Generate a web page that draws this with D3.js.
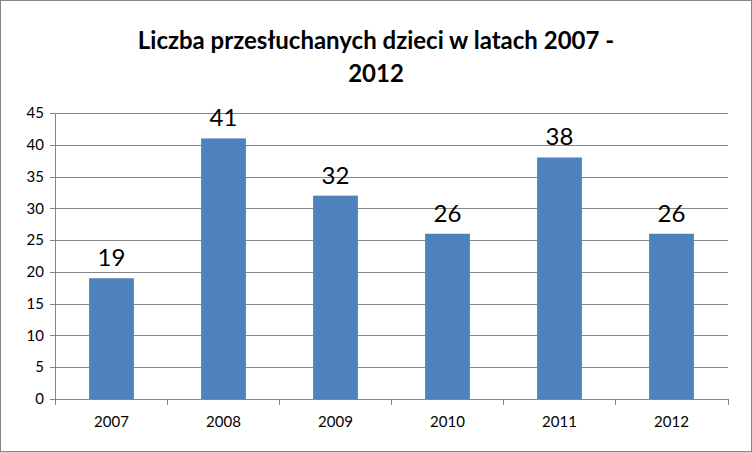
<!DOCTYPE html>
<html><head><meta charset="utf-8">
<script src="https://cdn.jsdelivr.net/npm/d3@7"></script>
<style>body{margin:0;background:#fff}svg{font-family:Lato,"Open Sans",sans-serif}</style>
</head><body>
<svg id="chart" width="752" height="452"></svg>
<script>
const years = ['2007', '2008', '2009', '2010', '2011', '2012'];
const counts = [19, 41, 32, 26, 38, 26];
const yTicks = [0, 5, 10, 15, 20, 25, 30, 35, 40, 45];
const titleLines = ['Liczba przesłuchanych dzieci w latach 2007 -', '2012'];

const svg = d3.select('#chart');
svg.append('rect').attr('x', 0.5).attr('y', 0.5).attr('width', 751).attr('height', 451)
  .attr('fill', '#fff').attr('stroke', '#868686');

const x = d3.scaleBand().domain(years).range([55.5, 727.5]).paddingInner(0.6).paddingOuter(0.3);
const y = d3.scaleLinear().domain([0, 45]).range([399, 113]);

// grid
svg.selectAll('.grid').data(yTicks).enter().append('line')
  .attr('x1', 55).attr('x2', 728)
  .attr('y1', d => Math.round(y(d)) + 0.5).attr('y2', d => Math.round(y(d)) + 0.5)
  .attr('stroke', '#868686').attr('stroke-width', 1);

// y axis
svg.append('line').attr('x1', 55.5).attr('x2', 55.5).attr('y1', 113).attr('y2', 399.5).attr('stroke', '#868686');
svg.selectAll('.yt').data(yTicks).enter().append('line')
  .attr('x1', 50).attr('x2', 55)
  .attr('y1', d => Math.round(y(d)) + 0.5).attr('y2', d => Math.round(y(d)) + 0.5).attr('stroke', '#868686');
svg.selectAll('.yl').data(yTicks).enter().append('text')
  .attr('x', 44).attr('y', d => y(d)).attr('dy', '0.35em').attr('text-anchor', 'end')
  .attr('font-size', 15).text(d => d);

// x axis ticks
const xEdges = years.map(d => x(d) - x.step() * x.paddingInner() / 2).concat([727.5]);
svg.selectAll('.xt').data(xEdges).enter().append('line')
  .attr('x1', d => Math.round(d) + 0.5).attr('x2', d => Math.round(d) + 0.5)
  .attr('y1', 399).attr('y2', 405).attr('stroke', '#868686');
svg.selectAll('.xl').data(years).enter().append('text')
  .attr('x', d => x(d) + x.bandwidth() / 2).attr('y', 427).attr('text-anchor', 'middle')
  .attr('font-size', 15).text(d => d);

// bars
svg.selectAll('.bar').data(counts).enter().append('rect')
  .attr('x', (d, i) => x(years[i])).attr('width', x.bandwidth())
  .attr('y', d => y(d)).attr('height', d => y(0) - y(d)).attr('fill', '#4F81BD');

svg.selectAll('.val').data(counts).enter().append('text')
  .attr('x', (d, i) => x(years[i]) + x.bandwidth() / 2).attr('y', d => y(d) - 12)
  .attr('text-anchor', 'middle').attr('font-size', 24).text(d => d);

svg.selectAll('.title').data(titleLines).enter().append('text')
  .attr('x', 376).attr('y', (d, i) => 49 + i * 33).attr('text-anchor', 'middle')
  .attr('font-size', 24).attr('font-weight', 'bold').text(d => d);
</script>
</body></html>
